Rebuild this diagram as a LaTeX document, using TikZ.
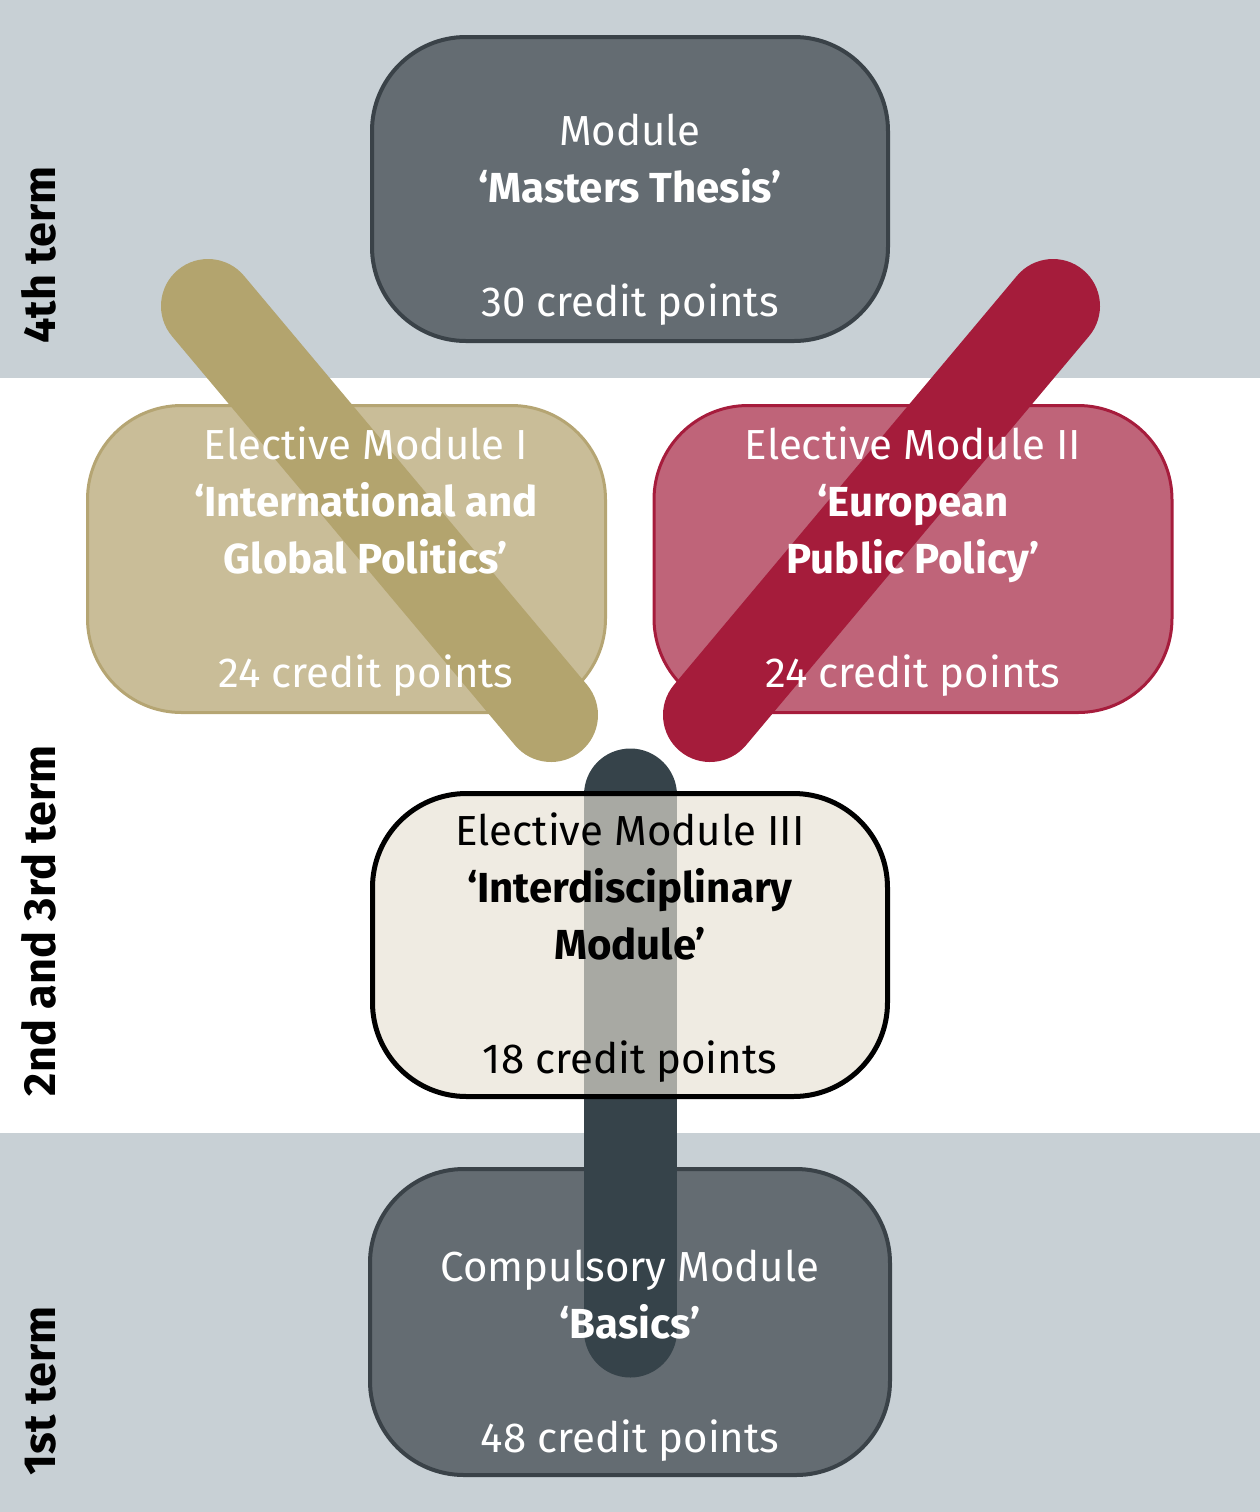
\documentclass[tikz,border=0pt]{standalone}
\usepackage{fontspec}
\setmainfont{Fira Sans}
\usepackage{tikz}
\definecolor{bandgray}{RGB}{200,208,213}
\definecolor{slatefill}{RGB}{100,108,114}
\definecolor{slateline}{RGB}{58,66,72}
\definecolor{slatebar}{RGB}{54,67,74}
\definecolor{khakifill}{RGB}{201,189,152}
\definecolor{khakiline}{RGB}{181,165,115}
\definecolor{khakibar}{RGB}{179,164,110}
\definecolor{redfill}{RGB}{191,100,121}
\definecolor{redline}{RGB}{166,28,60}
\definecolor{redbar}{RGB}{165,28,59}
\definecolor{creamfill}{RGB}{230,224,211}

\begin{document}
\begin{tikzpicture}[x=0.5pt,y=-0.5pt]
  \tikzstyle{modbox}=[rectangle,minimum width=258pt,minimum height=152pt,rounded corners=47pt,line width=2pt,inner sep=0pt]
  \tikzstyle{modtext}=[align=center,anchor=base,inner sep=0pt,font=\fontsize{21}{28.5}\selectfont]
  \tikzstyle{termtext}=[rotate=90,anchor=base,inner sep=0pt,font=\bfseries\fontsize{22.5}{26}\selectfont]
  \tikzstyle{modbar}=[line width=47pt,line cap=round]

  % term bands
  \useasboundingbox (0,0) rectangle (1260,1512);
  \fill[bandgray] (0,0) rectangle (1260,378);
  \fill[bandgray] (0,1133) rectangle (1260,1512);
  \node[termtext] (term4) at (55,255) {4th term};
  \node[termtext] (term23) at (55,921) {2nd and 3rd term};
  \node[termtext] (term1) at (55,1391) {1st term};

  % 4th term
  \node[modbox,fill=slatefill,draw=slateline] (thesis) at (630,189) {};
  \node[modtext,text=white] (thesis-txt) at (630,316) {Module\\\textbf{‘Masters Thesis’}\\[28.5pt]30 credit points};

  % elective modules I and II
  \coordinate (global-top) at (208,306);
  \coordinate (global-end) at (551,715);
  \coordinate (euro-top) at (1053,306);
  \coordinate (euro-end) at (710,715);
  \node[modbox,fill=khakifill,draw=khakiline,line width=1.5pt,minimum width=259pt,minimum height=153.5pt] (global) at (346.5,559) {};
  \node[modbox,fill=redfill,draw=redline,line width=1.5pt,minimum width=259pt,minimum height=153.5pt] (euro) at (913,559) {};
  \draw[modbar,khakibar] (global-top) -- (global-end);
  \draw[modbar,redbar] (euro-top) -- (euro-end);
  \node[modtext,text=white] (global-txt) at (366,687) {Elective Module I\\\textbf{‘International and}\\\textbf{Global Politics’}\\[28.5pt]24 credit points};
  \node[modtext,text=white] (euro-txt) at (913,687) {Elective Module II\\\textbf{‘European}\\\textbf{Public Policy’}\\[28.5pt]24 credit points};

  % compulsory and interdisciplinary
  \coordinate (basics-top) at (630,795);
  \coordinate (basics-end) at (630,1331);
  \node[modbox,fill=slatefill,draw=slateline,minimum width=260pt,minimum height=153pt] (basics) at (630,1322) {};
  \draw[modbar,slatebar,line width=46.5pt] (basics-top) -- (basics-end);
  \node[modbox,fill=creamfill,fill opacity=0.65,draw=black,line width=2.5pt,minimum width=257.5pt,minimum height=151.5pt] (inter) at (630,945) {};
  \node[modtext,text=black] (inter-txt) at (630,1073) {Elective Module III\\\textbf{‘Interdisciplinary}\\\textbf{Module’}\\[28.5pt]18 credit points};
  \node[modtext,text=white] (basics-txt) at (630,1452) {Compulsory Module\\\textbf{‘Basics’}\\[28.5pt]48 credit points};
\end{tikzpicture}
\end{document}
